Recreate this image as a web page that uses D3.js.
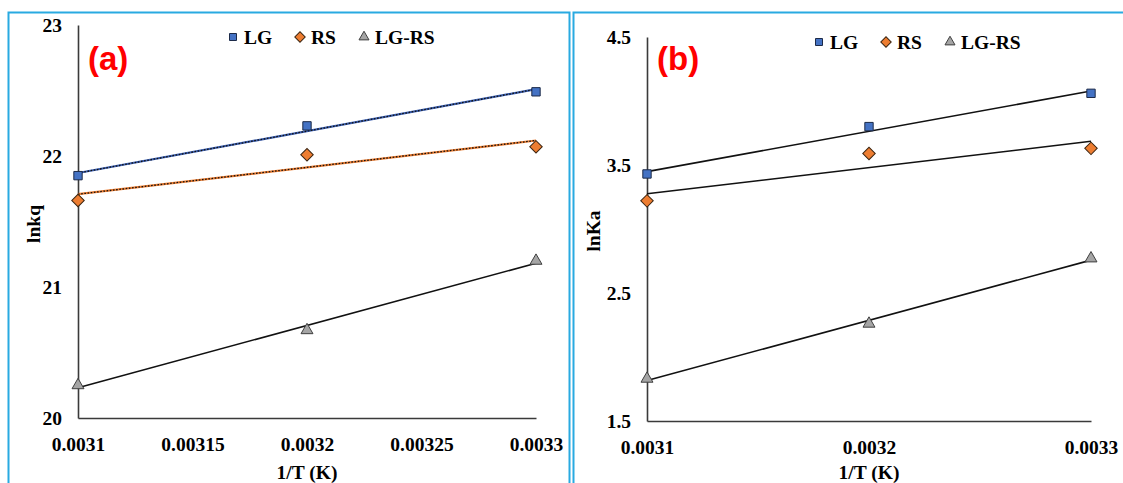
<!DOCTYPE html>
<html>
<head>
<meta charset="utf-8">
<script src="https://cdn.jsdelivr.net/npm/d3@7"></script>
<style>
  body { margin: 0; background: #fff; }
  svg { display: block; }
</style>
</head>
<body>
<svg id="chart" width="1123" height="483"></svg>
<script>
// inverse temperature values
const invT = [0.0031, 0.0032, 0.0033];
const seriesNames = ['LG', 'RS', 'LG-RS'];

// panel (a): lnkq
const lnkqLG = [21.85, 22.23, 22.49];
const lnkqRS = [21.66, 22.01, 22.07];
const lnkqLGRS = [20.25, 20.67, 21.2];
const xTicksA = [0.0031, 0.00315, 0.0032, 0.00325, 0.0033];
const xLabelsA = ['0.0031', '0.00315', '0.0032', '0.00325', '0.0033'];
const yTicksA = [20, 21, 22, 23];

// panel (b): lnKa
const lnKaLG = [3.43, 3.80, 4.06];
const lnKaRS = [3.22, 3.59, 3.63];
const lnKaLGRS = [1.83, 2.26, 2.77];
const xTicksB = [0.0031, 0.0032, 0.0033];
const xLabelsB = ['0.0031', '0.0032', '0.0033'];
const yTicksB = [1.5, 2.5, 3.5, 4.5];

const serif = '"Liberation Serif", "Times New Roman", serif';
const svg = d3.select('#chart');

// diamond = square turned 45 degrees (excel style)
const markerStyle = {
  'LG': { shape: d3.symbolSquare, size: 70, rot: 0, fill: '#4472c4', stroke: '#1c2a48' },
  'RS': { shape: d3.symbolSquare, size: 78, rot: 45, fill: '#ed7d31', stroke: '#3a2410' },
  'LG-RS': { shape: d3.symbolTriangle, size: 62, rot: 0, fill: '#a5a5a5', stroke: '#3f3f3f' },
};

// least squares fit, used for the trendlines
function fit(xs, ys) {
  const mx = d3.mean(xs), my = d3.mean(ys);
  const slope = d3.sum(xs, (x, i) => (x - mx) * (ys[i] - my)) / d3.sum(xs, (x) => (x - mx) ** 2);
  return (x) => my + slope * (x - mx);
}

function serifText(sel, size) {
  return sel.style('font-family', serif).style('font-weight', 'bold')
    .style('font-size', size + 'px').style('fill', '#000');
}

function drawPanel(cfg) {
  // panel frame
  svg.append('rect')
    .attr('x', cfg.frame[0]).attr('y', 12.5)
    .attr('width', cfg.frame[1]).attr('height', 520)
    .attr('fill', 'none').attr('stroke', '#29aae1').attr('stroke-width', 2);

  const g = svg.append('g');

  const x = d3.scaleLinear().domain([0.0031, 0.0033]).range([cfg.left, cfg.right]);
  const y = d3.scaleLinear().domain(cfg.yDomain).range([cfg.bottom, cfg.top]);

  const xAxis = g.append('g')
    .attr('transform', `translate(0,${cfg.bottom})`)
    .call(d3.axisBottom(x).tickValues(cfg.xTicks).tickSize(0).tickPadding(19)
      .tickFormat((d, i) => cfg.xLabels[i]));
  const yAxis = g.append('g')
    .attr('transform', `translate(${cfg.left},0)`)
    .call(d3.axisLeft(y).tickValues(cfg.yTicks).tickSize(0).tickPadding(16)
      .tickFormat((d) => String(d)));

  [xAxis, yAxis].forEach((ax) => {
    ax.select('.domain').attr('stroke', '#3a3a3a').attr('stroke-width', 1.6);
    serifText(ax.selectAll('text'), 19.5);
  });

  // trendlines
  cfg.series.forEach((s) => {
    const f = fit(invT, s.values);
    const pts = [[0.0031, f(0.0031)], [0.0033, f(0.0033)]];
    const line = d3.line().x((d) => x(d[0])).y((d) => y(d[1]));
    if (s.dotted) {
      g.append('path').attr('d', line(pts)).attr('fill', 'none')
        .attr('stroke', s.dotted).attr('stroke-width', 2.2);
      g.append('path').attr('d', line(pts)).attr('fill', 'none')
        .attr('stroke', '#111').attr('stroke-width', 1.3).attr('stroke-dasharray', '1.6 1.6');
    } else {
      g.append('path').attr('d', line(pts)).attr('fill', 'none')
        .attr('stroke', '#111').attr('stroke-width', 1.6);
    }
  });

  // markers
  cfg.series.forEach((s) => {
    const m = markerStyle[s.name];
    g.selectAll(null)
      .data(s.values.map((v, i) => [invT[i], v]))
      .join('path')
      .attr('d', d3.symbol(m.shape, m.size))
      .attr('transform', (d) => `translate(${x(d[0])},${y(d[1])}) rotate(${m.rot})`)
      .attr('fill', m.fill).attr('stroke', m.stroke).attr('stroke-width', 1);
  });

  // legend
  const leg = g.append('g').attr('transform', `translate(${cfg.legend[0]},${cfg.legend[1]})`);
  const legOffsets = [0, 67, 131];
  seriesNames.forEach((name, i) => {
    const m = markerStyle[name];
    const item = leg.append('g').attr('transform', `translate(${legOffsets[i]},0)`);
    item.append('path')
      .attr('d', d3.symbol(m.shape, m.size * 0.7))
      .attr('transform', `rotate(${m.rot})`)
      .attr('fill', m.fill).attr('stroke', m.stroke).attr('stroke-width', 1);
    serifText(item.append('text').attr('x', 11).attr('y', 7), 19.5).text(name);
  });

  // panel letter
  g.append('text')
    .attr('x', cfg.left + 10).attr('y', 70)
    .style('font-family', '"Liberation Sans", Arial, sans-serif')
    .style('font-weight', 'bold')
    .style('font-size', '33px').style('fill', '#ff0000')
    .text(cfg.letter);

  // axis titles
  serifText(g.append('text')
    .attr('x', (cfg.left + cfg.right) / 2).attr('y', 479)
    .attr('text-anchor', 'middle'), 19.5)
    .text('1/T (K)');
  serifText(g.append('text')
    .attr('transform', `translate(${cfg.yTitle[0]},${cfg.yTitle[1]}) rotate(-90)`)
    .attr('text-anchor', 'middle'), 19.5)
    .text(cfg.yLabel);
}

drawPanel({
  frame: [8.5, 561],
  left: 78, right: 536, top: 25, bottom: 418,
  yDomain: [20, 23],
  xTicks: xTicksA, xLabels: xLabelsA, yTicks: yTicksA,
  series: [
    { name: 'LG', values: lnkqLG, dotted: '#3b5fb0' },
    { name: 'RS', values: lnkqRS, dotted: '#ed7d31' },
    { name: 'LG-RS', values: lnkqLGRS },
  ],
  legend: [233, 37],
  letter: '(a)',
  yLabel: 'lnkq',
  yTitle: [40, 224],
});

drawPanel({
  frame: [573.5, 600],
  left: 647, right: 1091, top: 37, bottom: 421,
  yDomain: [1.5, 4.5],
  xTicks: xTicksB, xLabels: xLabelsB, yTicks: yTicksB,
  series: [
    { name: 'LG', values: lnKaLG },
    { name: 'RS', values: lnKaRS },
    { name: 'LG-RS', values: lnKaLGRS },
  ],
  legend: [819, 42],
  letter: '(b)',
  yLabel: 'lnKa',
  yTitle: [600, 231],
});
</script>
</body>
</html>
